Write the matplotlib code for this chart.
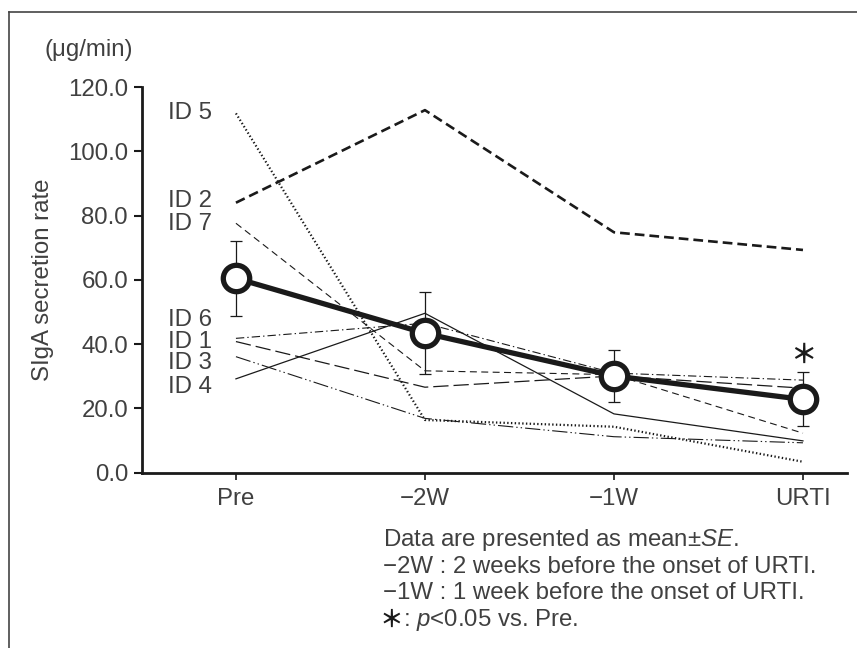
import matplotlib
matplotlib.use("Agg")
import matplotlib.pyplot as plt
from matplotlib.lines import Line2D

plt.rcParams['font.family'] = ['Liberation Sans', 'Noto Sans CJK JP', 'DejaVu Sans']
plt.rcParams['mathtext.fontset'] = 'custom'
plt.rcParams['mathtext.it'] = 'Liberation Sans:italic'
plt.rcParams['mathtext.rm'] = 'Liberation Sans'
plt.rcParams['lines.scale_dashes'] = False

# ---- data ----
timepoints = ["Pre", "\u22122W", "\u22121W", "URTI"]
id1 = [40.8, 26.6, 30.1, 26.3]
id2 = [84.0, 112.8, 74.8, 69.3]
id3 = [36.1, 16.9, 11.2, 9.3]
id4 = [29.2, 49.6, 18.3, 9.9]
id5 = [111.8, 16.4, 14.3, 3.4]
id6 = [41.8, 46.5, 31.0, 28.8]
id7 = [77.6, 31.7, 30.5, 12.3]
mean_vals = [60.5, 43.4, 30.1, 22.8]
se_vals = [11.7, 12.7, 8.0, 8.4]
id_labels = ["ID 5", "ID 2", "ID 7", "ID 6", "ID 1", "ID 3", "ID 4"]
id_label_y = [111.8, 84.4, 77.3, 47.6, 40.7, 34.0, 26.6]
yticks = [0, 20, 40, 60, 80, 100, 120]

TXT = '#404040'
FS = 17.3

fig = plt.figure(figsize=(8.57, 6.48), dpi=100)
ax = fig.add_axes([142/857, 175.3/648, (847-142)/857, (472.7-87)/648])

x = list(range(len(timepoints)))
k = '#1a1a1a'
ax.plot(x, id2, color=k, lw=1.9, linestyle=(0, (7.0, 3.6)))
ax.plot(x, id7, color=k, lw=0.8, linestyle=(0, (5.0, 3.2)))
ax.plot(x, id5, color=k, lw=1.6, linestyle=(0, (1.0, 1.7)))
ax.plot(x, id6, color=k, lw=0.8, linestyle=(0, (6.0, 2.2, 1.0, 2.2)))
ax.plot(x, id1, color=k, lw=0.9, linestyle=(0, (11.0, 3.6)))
ax.plot(x, id3, color=k, lw=0.8, linestyle=(0, (11.0, 2.2, 1.0, 2.2, 1.0, 2.2)))
ax.plot(x, id4, color=k, lw=0.9, linestyle='-')

ax.errorbar(x, mean_vals, yerr=se_vals, fmt='none', ecolor=k, elinewidth=0.9,
            capsize=4, capthick=0.9, zorder=4)
ax.plot(x, mean_vals, color=k, lw=3.8, marker='o', markersize=19,
        markerfacecolor='white', markeredgecolor=k, markeredgewidth=3.8, zorder=5)

for lab, yv in zip(id_labels, id_label_y):
    ax.annotate(lab, xy=(0, yv), xytext=(-17, 0), textcoords='offset points',
                ha='right', va='center', fontsize=FS, color=TXT)

ax.annotate('\uff0a', xy=(3, mean_vals[3] + se_vals[3]), xytext=(0, 12),
            textcoords='offset points', ha='center', va='center',
            fontsize=19, color=k, family=['Noto Sans CJK JP'], fontweight='bold')

ax.set_xlim(-0.497, 3.233)
ax.set_ylim(0, 120)
ax.set_xticks(x)
ax.set_xticklabels(timepoints)
ax.set_yticks(yticks)
ax.set_yticklabels([f"{v:.1f}" for v in yticks])
ax.tick_params(axis='y', direction='out', length=6, width=1.5, colors=k,
               labelsize=FS, labelcolor=TXT, pad=4)
ax.tick_params(axis='x', direction='out', length=5, width=1.2, colors=k,
               labelsize=FS, labelcolor=TXT, pad=6)
for s in ['top', 'right']:
    ax.spines[s].set_visible(False)
for s in ['left', 'bottom']:
    ax.spines[s].set_linewidth(2.0)
    ax.spines[s].set_color(k)

fig.text(43/857, 1 - 280/648, 'SIgA secretion rate', rotation=90, ha='center',
         va='center', fontsize=FS, color=TXT)
fig.text(45/857, 1 - 50/648, '(\u03bcg/min)', ha='left', va='center',
         fontsize=FS, color=TXT)

notes = [r'Data are presented as mean$\pm$$SE$.',
         '\u22122W : 2 weeks before the onset of URTI.',
         '\u22121W : 1 week before the onset of URTI.']
note_y = [540, 567, 593]
for t, yy in zip(notes, note_y):
    fig.text(383/857, 1 - yy/648, t, ha='left', va='center', fontsize=FS, color=TXT)
fig.text(391/857, 1 - 620/648, '\uff0a', ha='center', va='center', fontsize=17,
         color=k, family=['Noto Sans CJK JP'], fontweight='bold')
fig.text(403/857, 1 - 620/648, ': $p$<0.05 vs. Pre.', ha='left', va='center',
         fontsize=FS, color=TXT)

# figure frame (left and top edges)
fig.add_artist(Line2D([9/857, 9/857], [0, 1 - 12/648], transform=fig.transFigure,
                      color='#444444', lw=1.2))
fig.add_artist(Line2D([9/857, 1], [1 - 12/648, 1 - 12/648], transform=fig.transFigure,
                      color='#444444', lw=1.2))

fig.savefig('out.png', dpi=100)
